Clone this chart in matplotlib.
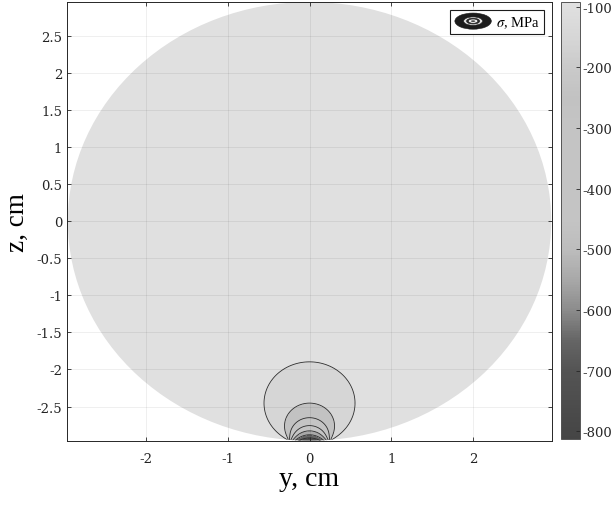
import numpy as np
import matplotlib
matplotlib.use('Agg')
import matplotlib.pyplot as plt
from matplotlib.colors import LinearSegmentedColormap, Normalize
from matplotlib.patches import Circle, Ellipse
from matplotlib.legend_handler import HandlerBase
import matplotlib.cm as cm

plt.rcParams['font.family'] = ['Liberation Serif', 'DejaVu Serif']
plt.rcParams['mathtext.fontset'] = 'stix'
plt.rcParams['axes.unicode_minus'] = False

# disk and contact
R = 2.96           # disk radius, cm
a_contact = 0.27   # contact half-width, cm
p_max = 800.0      # peak contact stress, MPa
levels = [-800, -700, -600, -500, -400, -300, -200, -100]
band_levels = [-900] + levels + [0]
clim = (-813, -92)

# grey map: (value, grey)
cmap_vals = [-813, -700, -650, -600, -550, -500, -450, -300, -250, -200, -150, -92]
cmap_grey = [0.27, 0.33, 0.40, 0.55, 0.66, 0.74, 0.77, 0.77, 0.76, 0.79, 0.84, 0.88]

xticks = [-2, -1, 0, 1, 2]
yticks = [-2.5, -2, -1.5, -1, -0.5, 0, 0.5, 1, 1.5, 2, 2.5]
cbar_ticks = [-800, -700, -600, -500, -400, -300, -200, -100]

# stress field: harmonic extension of the elliptic contact pressure
y = np.linspace(-R, R, 900)
z = np.linspace(-R, R, 900)
Y, Z = np.meshgrid(y, z)
w = Y + 1j * (Z + R)
g = w - np.sqrt(w - a_contact) * np.sqrt(w + a_contact)
sigma = p_max * g.imag / a_contact

pos = [(v - clim[0]) / (clim[1] - clim[0]) for v in cmap_vals]
cmap = LinearSegmentedColormap.from_list('greys', [(p, (c, c, c)) for p, c in zip(pos, cmap_grey)])
norm = Normalize(*clim)

tick_font = {'family': 'DejaVu Serif', 'size': 9.5}


class ContourIcon(HandlerBase):
    def create_artists(self, legend, orig_handle, xdescent, ydescent, width, height, fontsize, trans):
        cx, cy = width / 2 - xdescent, height / 2 - ydescent
        arts = []
        for f, c in [(1.0, '#1c1c1c'), (0.68, '#1c1c1c'), (0.52, '#e0e0e0'), (0.36, '#2a2a2a'), (0.26, '#f2f2f2')]:
            arts.append(Ellipse((cx, cy), width * f, height * 1.45 * f, facecolor=c,
                                edgecolor='#1c1c1c', lw=0.4, transform=trans))
        arts.append(Ellipse((cx, cy), width * 0.12, height * 0.12, facecolor='#1c1c1c',
                            edgecolor='none', transform=trans))
        return arts


fig = plt.figure(figsize=(6.14, 5.06), dpi=100)
ax = fig.add_axes([0.1091, 0.1265, 0.790, 0.8676])
cax = fig.add_axes([0.9137, 0.1304, 0.031, 0.8636])

disk = Circle((0, 0), R, transform=ax.transData)
cf = ax.contourf(Y, Z, sigma, levels=band_levels, cmap=cmap, norm=norm, extend='neither')
cf.set_clip_path(disk)
cl = ax.contour(Y, Z, sigma, levels=levels, colors='#2b2b2b', linewidths=0.6,
                linestyles='solid')
cl.set_clip_path(disk)

ax.set_xlim(-2.97, 2.97)
ax.set_ylim(-2.965, 2.96)
ax.set_xticks(xticks)
ax.set_yticks(yticks)
ax.set_xticklabels([f'{v:g}' for v in xticks], fontdict=tick_font)
ax.set_yticklabels([f'{v:g}' for v in yticks], fontdict=tick_font)
ax.tick_params(direction='in', length=3, width=0.6, colors='#262626',
               top=True, right=True, labelcolor='#222222')
ax.tick_params(axis='x', pad=8)
ax.grid(True, color='k', alpha=0.09, lw=0.5)
ax.set_axisbelow(False)
for s in ax.spines.values():
    s.set_color('#262626')
    s.set_linewidth(0.7)

ax.set_xlabel('y, cm', fontsize=20, labelpad=1)
ax.set_ylabel('z, cm', fontsize=19.5, labelpad=5)

proxy = Ellipse((0, 0), 1, 1)
leg = ax.legend([proxy], [r'$\sigma$, MPa'], handler_map={Ellipse: ContourIcon()},
                loc='upper right', fontsize=10.5, fancybox=False, framealpha=1,
                edgecolor='#1c1c1c', handlelength=2.5, handleheight=0.8,
                handletextpad=0.3, borderpad=0.3, borderaxespad=0.55)
leg.get_frame().set_linewidth(0.8)

sm = cm.ScalarMappable(norm=norm, cmap=cmap)
cb = fig.colorbar(sm, cax=cax, ticks=cbar_ticks)
cb.ax.set_yticklabels([str(v) for v in cbar_ticks], fontdict=tick_font)
cb.ax.tick_params(direction='in', length=3, width=0.6, colors='#262626', pad=2)
cb.outline.set_linewidth(0.7)
cb.outline.set_edgecolor('#555555')

fig.savefig('out.png', dpi=100)
